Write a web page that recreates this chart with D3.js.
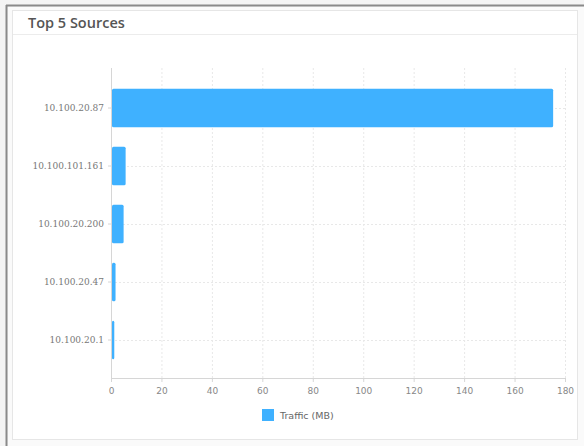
<!DOCTYPE html>
<html>
<head>
<meta charset="utf-8">
<script src="https://cdn.jsdelivr.net/npm/d3@7"></script>
<style>
  body { margin: 0; background: #fff; }
  svg { display: block; }
</style>
</head>
<body>
<svg></svg>
<script>
const width = 584;
const height = 446;

const sources = ["10.100.20.87", "10.100.101.161", "10.100.20.200", "10.100.20.47", "10.100.20.1"];
const traffic = [175.3, 5.8, 5.0, 1.8, 1.3];
const xTicks = [0, 20, 40, 60, 80, 100, 120, 140, 160, 180];
const title = "Top 5 Sources";
const seriesName = "Traffic (MB)";

const data = sources.map((s, i) => ({ source: s, value: traffic[i] }));

const svg = d3.select("svg")
  .attr("width", width)
  .attr("height", height);

// screenshot frame
svg.append("rect")
  .attr("x", 0).attr("y", 0).attr("width", width).attr("height", height)
  .attr("fill", "#f4f4f4");
svg.append("line")
  .attr("x1", 6.5).attr("x2", 6.5).attr("y1", 5).attr("y2", height)
  .attr("stroke", "#8a8a8a").attr("stroke-width", 2);
svg.append("line")
  .attr("x1", 6).attr("x2", width).attr("y1", 5.5).attr("y2", 5.5)
  .attr("stroke", "#8a8a8a").attr("stroke-width", 2);
svg.append("rect")
  .attr("x", 8).attr("y", 7).attr("width", width - 8).attr("height", height - 7)
  .attr("fill", "#fafafa");

// panel
svg.append("rect")
  .attr("x", 12.5).attr("y", 10.5).attr("width", 565).attr("height", 429)
  .attr("fill", "#fff").attr("stroke", "#e6e6e6");
svg.append("line")
  .attr("x1", 13).attr("x2", 577).attr("y1", 34.5).attr("y2", 34.5)
  .attr("stroke", "#ececec");
svg.append("text")
  .attr("x", 28).attr("y", 28)
  .attr("font-family", "Open Sans, sans-serif")
  .attr("font-size", 14.5)
  .attr("font-weight", 600)
  .attr("fill", "#555")
  .text(title);

const xScale = d3.scaleLinear()
  .domain([0, 180])
  .range([111, 565]);

const yScale = d3.scaleBand()
  .domain(sources)
  .range([79, 369])
  .paddingInner(0.34)
  .paddingOuter(0.17);

const gridTop = 68;
const axisY = 378;

// vertical grid
svg.append("g")
  .selectAll("line")
  .data(xTicks.slice(1))
  .join("line")
    .attr("x1", d => xScale(d) + 0.5)
    .attr("x2", d => xScale(d) + 0.5)
    .attr("y1", gridTop)
    .attr("y2", axisY)
    .attr("stroke", "#e8e8e8")
    .attr("stroke-dasharray", "2,2");

// horizontal grid
svg.append("g")
  .selectAll("line")
  .data(sources)
  .join("line")
    .attr("x1", xScale(0))
    .attr("x2", xScale(180))
    .attr("y1", d => Math.round(yScale(d) + yScale.bandwidth() / 2) + 0.5)
    .attr("y2", d => Math.round(yScale(d) + yScale.bandwidth() / 2) + 0.5)
    .attr("stroke", "#e8e8e8")
    .attr("stroke-dasharray", "2,2");

// x axis
const xAxis = svg.append("g")
  .attr("transform", `translate(0, ${axisY})`)
  .call(d3.axisBottom(xScale).tickValues(xTicks).tickSize(4).tickSizeOuter(0));
xAxis.select(".domain").attr("stroke", "#d6d6d6");
xAxis.selectAll(".tick line").attr("stroke", "#d6d6d6");
xAxis.selectAll("text")
  .attr("fill", "#888")
  .attr("font-family", "DejaVu Sans, sans-serif")
  .attr("font-size", 9)
  .attr("dy", "1em");

// y axis
const yAxis = svg.append("g")
  .attr("transform", `translate(${xScale(0)}, 0)`)
  .call(d3.axisLeft(yScale).tickSize(3).tickSizeOuter(0));
yAxis.select(".domain")
  .attr("d", `M0.5,${gridTop}V${axisY}`)
  .attr("stroke", "#d6d6d6");
yAxis.selectAll(".tick line").attr("stroke", "#d6d6d6");
yAxis.selectAll("text")
  .attr("fill", "#777")
  .attr("font-family", "DejaVu Serif, serif")
  .attr("font-size", 9)
  .attr("x", -7);

// bars
svg.append("g")
  .selectAll("rect")
  .data(data)
  .join("rect")
    .attr("x", xScale(0) + 1)
    .attr("y", d => yScale(d.source))
    .attr("width", d => xScale(d.value) - xScale(0) - 1)
    .attr("height", yScale.bandwidth())
    .attr("rx", 1.5)
    .attr("fill", "#3fb1ff");

// legend
const legend = svg.append("g").attr("transform", "translate(262, 409)");
legend.append("rect")
  .attr("width", 12).attr("height", 12)
  .attr("fill", "#3fb1ff");
legend.append("text")
  .attr("x", 18).attr("y", 9.5)
  .attr("fill", "#666")
  .attr("font-family", "DejaVu Sans, sans-serif")
  .attr("font-size", 9.5)
  .text(seriesName);
</script>
</body>
</html>
